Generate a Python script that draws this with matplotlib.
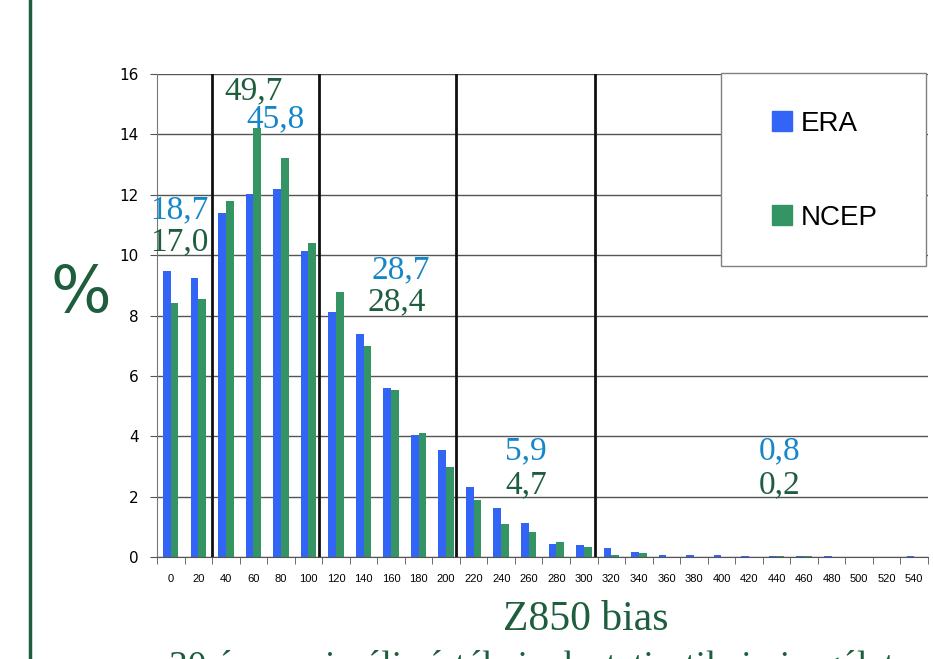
import numpy as np
import matplotlib.pyplot as plt
from matplotlib.lines import Line2D
from matplotlib.patches import Rectangle

# Z850 bias classes (bin start) and frequency in %
bias_bins = list(range(0, 541, 20))
era = [9.48, 9.23, 11.38, 12.02, 12.18, 10.14, 8.13, 7.38, 5.59, 4.04,
       3.53, 2.33, 1.62, 1.14, 0.43, 0.39, 0.29, 0.18, 0.07, 0.07,
       0.07, 0.02, 0.02, 0.02, 0.02, 0.0, 0.0, 0.03]
ncep = [8.43, 8.56, 11.79, 14.22, 13.23, 10.40, 8.77, 6.99, 5.53, 4.11,
        2.97, 1.89, 1.10, 0.83, 0.49, 0.33, 0.07, 0.13, 0.0, 0.01,
        0.0, 0.01, 0.02, 0.02, 0.0, 0.0, 0.0, 0.0]

# group separators (category units) and summed percentages per group
separators = [1.5, 5.37, 10.37, 15.39]
group_labels_era = ['18,7', '45,8', '28,7', '5,9', '0,8']
group_labels_ncep = ['17,0', '49,7', '28,4', '4,7', '0,2']

era_color = '#3264f5'
ncep_color = '#349463'
lbl_blue = '#1487c8'
lbl_green = '#1e5e3e'

fig = plt.figure(figsize=(9.33, 6.59), dpi=100)
ax = fig.add_axes([157 / 933, 1 - 557 / 659, 771 / 933, 483 / 659])

x = np.arange(len(bias_bins))
w = 0.28
ax.bar(x - w / 2, era, width=w, color=era_color, zorder=2, label='ERA')
ax.bar(x + w / 2, ncep, width=w, color=ncep_color, zorder=2, label='NCEP')

ax.set_xlim(-0.5, len(bias_bins) - 0.5)
ax.set_ylim(0, 16)
ax.set_yticks(range(0, 17, 2))
ax.yaxis.grid(True, color='#555555', linewidth=1, zorder=0)
ax.set_axisbelow(True)

ax.set_xticks(x)
ax.set_xticklabels([str(b) for b in bias_bins], family='Liberation Sans', fontsize=8)
ax.set_xticks(np.arange(-0.5, len(bias_bins)), minor=True)
ax.tick_params(axis='x', which='major', length=0, pad=12)
ax.tick_params(axis='x', which='minor', length=5, color='#555555')
ax.tick_params(axis='y', length=5, color='#555555', pad=8, labelsize=11)

for side in ['top', 'right']:
    ax.spines[side].set_visible(False)
ax.spines['left'].set_color('#777777')
ax.spines['bottom'].set_color('#555555')

for s in separators:
    ax.axvline(s, color='#111111', linewidth=2, zorder=3)

# group sums
serif = 'Liberation Serif'
pos_era = [(0.3, 11.5), (3.8, 14.5), (8.35, 9.5), (12.9, 3.5), (22.1, 3.5)]
pos_ncep = [(0.3, 10.45), (3.0, 15.45), (8.2, 8.45), (12.9, 2.4), (22.1, 2.4)]
for (px, py), t in zip(pos_era, group_labels_era):
    ax.text(px, py, t, color=lbl_blue, fontsize=24, family=serif,
            ha='center', va='center', zorder=4)
for (px, py), t in zip(pos_ncep, group_labels_ncep):
    ax.text(px, py, t, color=lbl_green, fontsize=24, family=serif,
            ha='center', va='center', zorder=4)

# legend box
fig.add_artist(Rectangle((721 / 933, 1 - 266 / 659), 205 / 933, 193 / 659,
                         transform=fig.transFigure, facecolor='white',
                         edgecolor='#808080', linewidth=1, zorder=4))
handles = [Line2D([], [], marker='s', linestyle='none', markersize=14,
                  color=era_color, label='ERA'),
           Line2D([], [], marker='s', linestyle='none', markersize=14,
                  color=ncep_color, label='NCEP')]
leg = fig.legend(handles=handles, loc='upper left',
                 bbox_to_anchor=(772 / 933, 1 - 111 / 659),
                 prop={'family': 'Liberation Sans', 'size': 20},
                 frameon=False, borderpad=0, labelspacing=2.45,
                 handlelength=0.75, handletextpad=0.3, borderaxespad=0)
leg.set_zorder(6)

fig.text(81 / 933, 1 - 294 / 659, '%', color=lbl_green, fontsize=46,
         family='DejaVu Sans', ha='center', va='center')
fig.text(586 / 933, 1 - 630 / 659, 'Z850 bias', color=lbl_green,
         fontsize=30, family=serif, ha='center', va='baseline')
fig.text(540 / 933, 1 - 677 / 659,
         '30 év maximális értékeinek statisztikai vizsgálata',
         color=lbl_green, fontsize=27, family=serif, ha='center', va='baseline')

fig.add_artist(Line2D([30 / 933, 30 / 933], [0, 1], color=lbl_green, linewidth=2.5))

fig.savefig('out.png', dpi=100)
